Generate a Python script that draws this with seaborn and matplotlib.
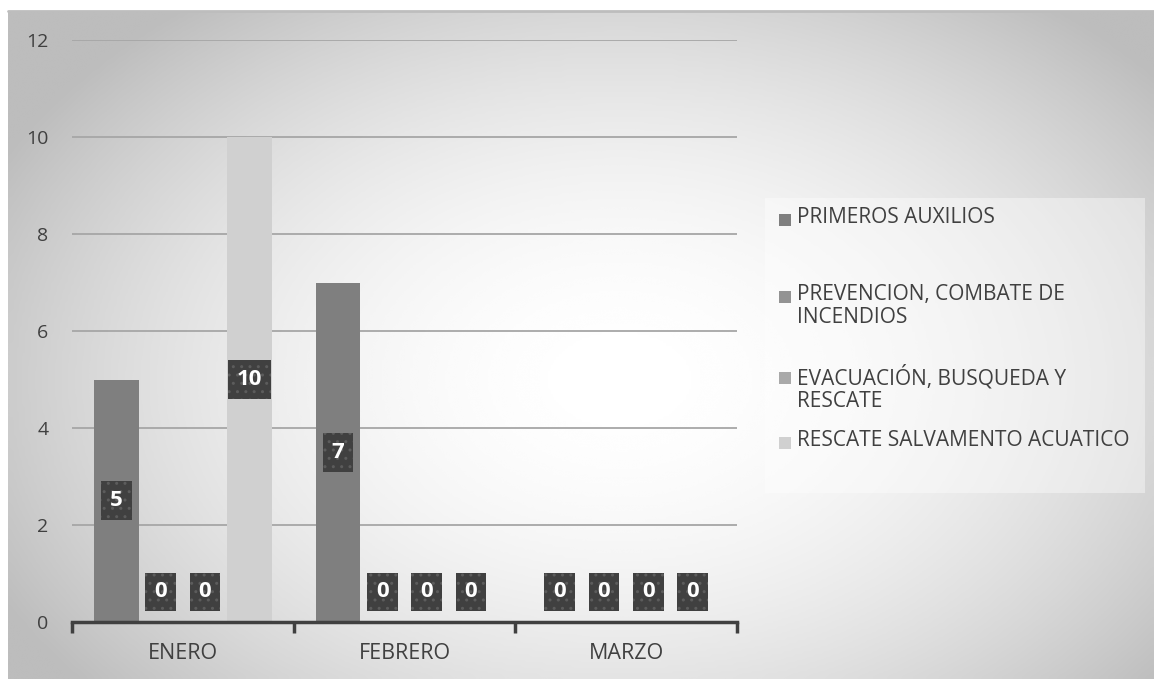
import numpy as np
import pandas as pd
import seaborn as sns
import matplotlib.pyplot as plt
from matplotlib.patches import Rectangle

# data
months = ["ENERO", "FEBRERO", "MARZO"]
series = ["PRIMEROS AUXILIOS", "PREVENCION, COMBATE DE INCENDIOS",
          "EVACUACIÓN, BUSQUEDA Y RESCATE", "RESCATE SALVAMENTO ACUATICO"]
legend_labels = ["PRIMEROS AUXILIOS", "PREVENCION, COMBATE DE\nINCENDIOS",
                 "EVACUACIÓN, BUSQUEDA Y\nRESCATE", "RESCATE SALVAMENTO ACUATICO"]
primeros = [5, 7, 0]
prevencion = [0, 0, 0]
evacuacion = [0, 0, 0]
rescate = [10, 0, 0]
colors = ["#7f7f7f", "#939393", "#a9a9a9", "#d0d0d0"]
yticks = [0, 2, 4, 6, 8, 10, 12]

rows = []
for name, vals in zip(series, [primeros, prevencion, evacuacion, rescate]):
    for m, v in zip(months, vals):
        rows.append({"mes": m, "curso": name, "valor": v})
df = pd.DataFrame(rows)

sns.set_style("white")
plt.rcParams["font.family"] = ["Open Sans", "DejaVu Sans"]

W, H = 1154, 679
fig = plt.figure(figsize=(W / 100, H / 100), dpi=100)
fig.patch.set_facecolor("white")

# radial gradient background of the chart frame
bg = fig.add_axes([8 / W, 0, 1 - 8 / W, (H - 11) / H])
xx, yy = np.meshgrid(np.linspace(8, W, 400), np.linspace(11, H, 240))
d = np.sqrt(((xx - 620) / 700) ** 2 + ((yy - 380) / 480) ** 2)
g = 1 - 0.26 * np.clip(d, 0, 1) ** 1.9
bg.imshow(g, cmap="gray", vmin=0, vmax=1, aspect="auto", extent=[0, 1, 0, 1],
          interpolation="bicubic")
bg.set_axis_off()
fig.add_artist(plt.Line2D([8 / W, 1], [(H - 11) / H] * 2, color="#bdbdbd", lw=2))

ax = fig.add_axes([72 / W, 57 / H, (737 - 72) / W, (622 - 40) / H])
ax.patch.set_alpha(0)

sns.barplot(data=df, x="mes", y="valor", hue="curso", order=months,
            hue_order=series, palette=colors, width=0.8, saturation=1,
            linewidth=0, edgecolor="none", legend=False, ax=ax, zorder=3)

ax.set_ylim(0, 12)
ax.set_xlim(-0.5, 2.5)
ax.set_yticks(yticks)
for y in yticks[1:]:
    ax.axhline(y, color="#a6a6a6", lw=1.3, zorder=1)
ax.set_xlabel("")
ax.set_ylabel("")
for s in ["top", "right", "left"]:
    ax.spines[s].set_visible(False)
ax.spines["bottom"].set_color("#404040")
ax.spines["bottom"].set_linewidth(2.5)
ax.spines["bottom"].set_zorder(5)
ax.set_xticks([-0.5, 0.5, 1.5, 2.5], minor=True)
ax.tick_params(axis="x", which="minor", bottom=True, length=8, width=2.5,
               color="#404040", direction="out")
ax.tick_params(axis="x", which="major", length=0, pad=15, labelsize=15.5, labelcolor="#404040")
ax.tick_params(axis="y", length=0, pad=17, labelsize=14, labelcolor="#404040")

# data labels in dark boxes
for cont in ax.containers:
    for bar in cont:
        v = bar.get_height()
        xc = bar.get_x() + bar.get_width() / 2
        yc = max(v / 2, 0.62)
        ax.text(xc, yc, f"{v:.0f}", ha="center", va="center", color="white",
                fontsize=16, fontweight="bold", zorder=6,
                bbox=dict(boxstyle="square,pad=0.4", facecolor="#404040",
                          edgecolor="#5c5c5c", linewidth=0, hatch=".."))

# legend box drawn on the figure
fig.patches.append(Rectangle((765 / W, (H - 493) / H), 380 / W, 295 / H,
                             transform=fig.transFigure, facecolor="white",
                             alpha=0.4, edgecolor="none"))
leg_y = [220, 297, 378, 443]
for lab, col, y in zip(legend_labels, colors, leg_y):
    fig.patches.append(Rectangle((779 / W, (H - y - 6) / H), 12 / W, 12 / H,
                                 transform=fig.transFigure, facecolor=col,
                                 edgecolor="none"))
    fig.text(797 / W, (H - y + 13) / H, lab, ha="left", va="top",
             fontsize=15, color="#404040", linespacing=1.1)

fig.savefig("out.png", dpi=100)
